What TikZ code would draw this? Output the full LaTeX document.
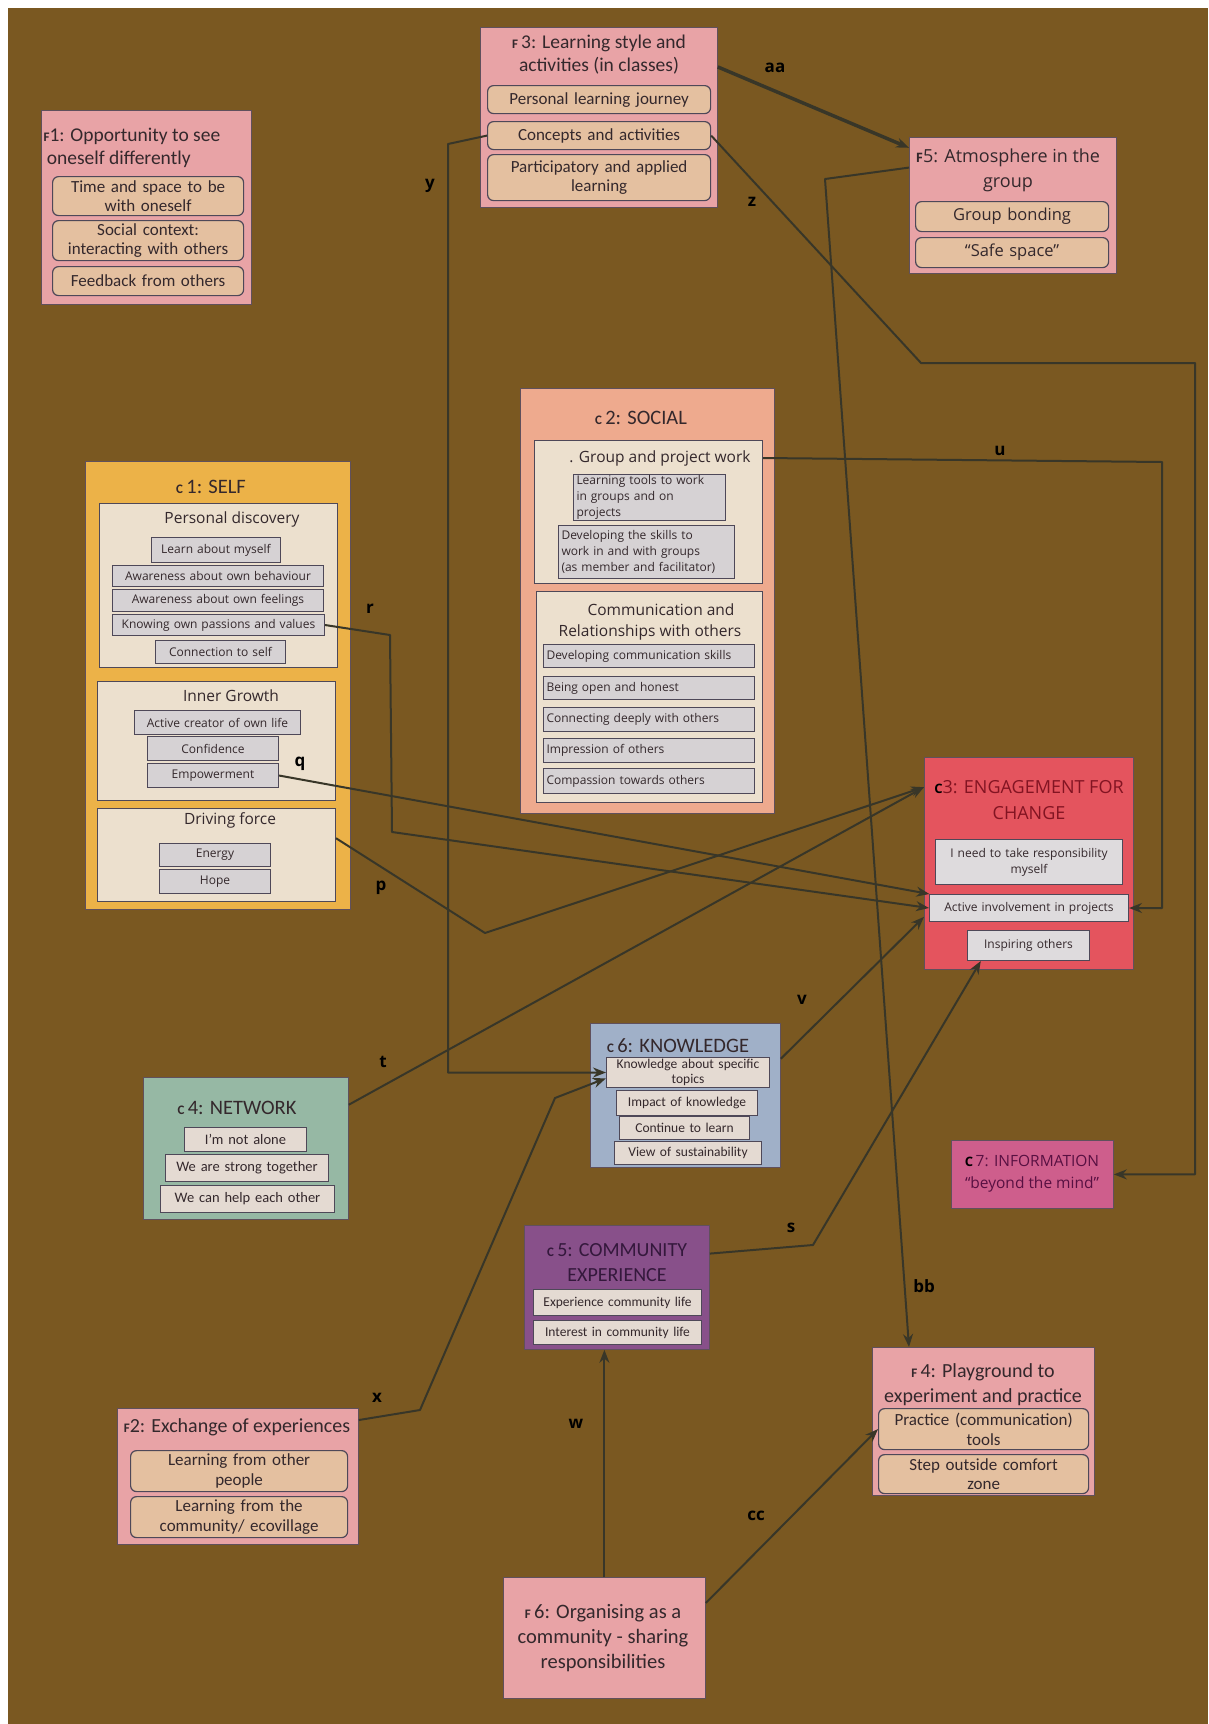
\documentclass[tikz,border=0pt]{standalone}
\usepackage{fontspec}
\setmainfont{Carlito}
\newfontfamily\segoe{Open Sans}
\usetikzlibrary{arrows.meta}

\definecolor{boardbrown}{RGB}{122,88,33}
\definecolor{cardedge}{RGB}{96,80,92}
\definecolor{itemedge}{RGB}{78,72,88}
\definecolor{inktext}{RGB}{52,40,44}
\definecolor{linkgrey}{RGB}{56,54,40}
\definecolor{fpink}{RGB}{232,163,166}
\definecolor{fbeige}{RGB}{228,192,160}
\definecolor{cselfyellow}{RGB}{236,178,72}
\definecolor{csocial}{RGB}{238,170,142}
\definecolor{cinnerfill}{RGB}{236,224,206}
\definecolor{citemgrey}{RGB}{214,210,212}
\definecolor{cengage}{RGB}{228,84,94}
\definecolor{cengagetext}{RGB}{130,20,34}
\definecolor{cnetwork}{RGB}{150,184,164}
\definecolor{cknow}{RGB}{160,176,200}
\definecolor{ccommunity}{RGB}{136,80,138}
\definecolor{ccommtext}{RGB}{52,24,60}
\definecolor{cinfo}{RGB}{206,94,140}
\definecolor{cinfotext}{RGB}{88,16,66}
\definecolor{cwarmitem}{RGB}{228,218,210}

\newcommand{\ftitlefont}{\fontsize{19.5}{23}\selectfont}
\newcommand{\fitemfont}{\fontsize{17}{19.5}\selectfont}
\newcommand{\ctitlefont}{\fontsize{20.5}{24}\selectfont}
\newcommand{\cheadfont}{\segoe\fontsize{15.5}{21}\selectfont}
\newcommand{\cboxfont}{\segoe\fontsize{12}{16}\selectfont}
\newcommand{\labfont}{\segoe\bfseries\fontsize{17}{17}\selectfont}
\newcommand{\pfx}[1]{{\fontsize{13}{13}\selectfont\bfseries #1}}
% box from top-left to bottom-right corner, text centred in it
\newcommand{\tile}[7][]{%
  \pgfmathsetmacro{\tilew}{#5-#3}\pgfmathsetmacro{\tileh}{#6-#4}\pgfmathsetmacro{\tiletw}{#5-#3-6}%
  \node[#1,anchor=north west,inner xsep=3pt,inner ysep=0pt,minimum width=\tilew pt,minimum height=\tileh pt,text width=\tiletw pt] (#2) at (#3,#4) {#7};}

\begin{document}
\begin{tikzpicture}[x=1pt,y=-1pt,
  fcard/.style={draw=cardedge,fill=fpink,line width=0.8pt},
  fitem/.style={draw=itemedge,fill=fbeige,rounded corners=6pt,line width=1.2pt,font=\fitemfont,text=inktext,align=center},
  ccard/.style={draw=cardedge,line width=0.8pt},
  cinner/.style={draw=itemedge,fill=cinnerfill,line width=1pt},
  citem/.style={draw=itemedge,fill=citemgrey,line width=1pt,font=\cboxfont,text=inktext,align=center},
  ftitle/.style={font=\ftitlefont,text=inktext,align=center},
  ctitle/.style={font=\ctitlefont,text=inktext,align=center},
  chead/.style={font=\cheadfont,text=inktext,align=center},
  link/.style={draw=linkgrey,line width=2pt,line join=round,-{Stealth[length=13pt,width=10pt]}},
  lab/.style={font=\labfont,text=black}]
\useasboundingbox (0,0) rectangle (1208,1724);
\fill[white] (0,0) rectangle (1208,1724);
\fill[boardbrown] (8,8) rectangle (1208,1724);

% F cards
\tile[fcard]{f1}{41}{110}{251}{304}{}
\node[ftitle,anchor=west,align=left] (f1t) at (40,148) {\pfx{F}1: Opportunity to see\\ \,oneself differently};
\tile[fitem]{f1a}{52}{176}{243}{215}{Time and space to be\\with oneself}
\tile[fitem]{f1b}{52}{220}{243}{260}{Social context:\\interacting with others}
\tile[fitem]{f1c}{52}{266}{243}{295}{Feedback from others}

\tile[fcard]{f3}{480}{27}{717}{207}{}
\node[ftitle] (f3t) at (599,55) {\pfx{F}\,3: Learning style and\\activities (in classes)};
\tile[fitem]{f3a}{487}{85}{710}{113}{Personal learning journey}
\tile[fitem]{f3b}{487}{121}{710}{149}{Concepts and activities}
\tile[fitem]{f3c}{487}{154}{710}{200}{Participatory and applied\\learning}

\tile[fcard]{f5}{909}{137}{1116}{273}{}
\node[ftitle,font=\segoe\fontsize{18}{25}\selectfont] (f5t) at (1008,170) {\pfx{F}5: Atmosphere in the\\group};
\tile[fitem,font=\segoe\fontsize{16.5}{18}\selectfont]{f5a}{915}{201}{1108}{231}{Group bonding}
\tile[fitem,font=\segoe\fontsize{16.5}{18}\selectfont]{f5b}{915}{237}{1108}{267}{“Safe space”}

\tile[fcard]{f2}{117}{1408}{358}{1544}{}
\node[ftitle,font=\fontsize{20}{24}\selectfont] (f2t) at (237,1427) {\pfx{F}2: Exchange of experiences};
\tile[fitem]{f2a}{130}{1450}{347}{1491}{Learning from other\\people}
\tile[fitem]{f2b}{130}{1496}{347}{1537}{Learning from the\\community/ ecovillage}

\tile[fcard]{f4}{872}{1347}{1094}{1495}{}
\node[ftitle,font=\fontsize{20}{25}\selectfont] (f4t) at (983,1385) {\pfx{F}\,4: Playground to\\experiment and practice};
\tile[fitem]{f4a}{878}{1408}{1088}{1449}{Practice (communication)\\tools}
\tile[fitem]{f4b}{878}{1454}{1088}{1493}{Step outside comfort\\zone}

\tile[fcard]{f6}{503}{1577}{705}{1698}{}
\node[ftitle,font=\fontsize{20.5}{25}\selectfont] (f6t) at (603,1638) {\pfx{F}\,6: Organising as a\\community - sharing\\responsibilities};

% C cards
\tile[ccard,fill=cselfyellow]{c1}{85}{461}{350}{909}{}
\node[ctitle] (c1t) at (211,487) {\pfx{C}\,1: SELF};
\tile[cinner]{c1p}{99}{503}{337}{667}{}
\node[chead] (c1pt) at (232,519) {Personal discovery};
\tile[citem]{c1p1}{151}{537}{280}{562}{Learn about myself}
\tile[citem]{c1p2}{112}{565}{323}{586}{Awareness about own behaviour}
\tile[citem]{c1p3}{112}{589}{323}{611}{Awareness about own feelings}
\tile[citem]{c1p4}{112}{614}{324}{635}{Knowing own passions and values}
\tile[citem]{c1p5}{155}{640}{285}{663}{Connection to self}
\tile[cinner]{c1g}{97}{681}{335}{800}{}
\node[chead] (c1gt) at (231,696) {Inner Growth};
\tile[citem]{c1g1}{134}{710}{300}{734}{Active creator of own life}
\tile[citem]{c1g2}{147}{736}{278}{760}{Confidence}
\tile[citem]{c1g3}{147}{763}{278}{787}{Empowerment}
\tile[cinner]{c1d}{97}{808}{335}{901}{}
\node[chead] (c1dt) at (230,820) {Driving force};
\tile[citem]{c1d1}{159}{843}{270}{866}{Energy}
\tile[citem]{c1d2}{159}{869}{270}{893}{Hope}

\tile[ccard,fill=csocial]{c2}{520}{388}{774}{813}{}
\node[ctitle] (c2t) at (641,418) {\pfx{C}\,2: SOCIAL};
\tile[cinner]{c2g}{534}{440}{762}{583}{}
\node[chead] (c2gt) at (660,458) {. Group and project work};
\tile[citem,align=left]{c2g1}{573}{474}{725}{520}{Learning tools to work\\in groups and on\\projects}
\tile[citem,align=left]{c2g2}{558}{525}{734}{578}{Developing the skills to\\work in and with groups\\(as member and facilitator)}
\tile[cinner]{c2c}{536}{591}{762}{802}{}
\node[chead] (c2ct) at (650,622) {\hspace*{22pt}Communication and\\Relationships with others};
\tile[citem,align=left]{c2c1}{543}{644}{754}{667}{Developing communication skills}
\tile[citem,align=left]{c2c2}{543}{676}{754}{699}{Being open and honest}
\tile[citem,align=left]{c2c3}{543}{707}{754}{731}{Connecting deeply with others}
\tile[citem,align=left]{c2c4}{543}{738}{754}{762}{Impression of others}
\tile[citem,align=left]{c2c5}{543}{768}{754}{793}{Compassion towards others}

\tile[ccard,fill=cengage]{c3}{924}{757}{1133}{969}{}
\node[chead,font=\segoe\fontsize{18}{26}\selectfont,text=cengagetext] (c3t) at (1029,800) {\pfx{\textcolor{black}{C}}3: ENGAGEMENT FOR\\CHANGE};
\tile[citem,fill=citemgrey!80!white]{c3a}{935}{839}{1122}{884}{I need to take responsibility\\myself}
\tile[citem,fill=citemgrey!80!white]{c3b}{929}{894}{1128}{921}{Active involvement in projects}
\tile[citem,fill=citemgrey!80!white]{c3c}{967}{930}{1089}{960}{Inspiring others}

\tile[ccard,fill=cknow]{c6}{590}{1023}{780}{1167}{}
\node[ctitle] (c6t) at (678,1046) {\pfx{C}\,6: KNOWLEDGE};
\tile[citem,fill=cwarmitem,font=\fontsize{13.5}{15}\selectfont]{c6a}{606}{1057}{769}{1087}{Knowledge about specific\\topics}
\tile[citem,fill=cwarmitem,font=\fontsize{13.5}{15}\selectfont]{c6b}{616}{1090}{757}{1115}{Impact of knowledge}
\tile[citem,fill=cwarmitem,font=\fontsize{13.5}{15}\selectfont]{c6c}{619}{1116}{749}{1139}{Continue to learn}
\tile[citem,fill=cwarmitem,font=\fontsize{13.5}{15}\selectfont]{c6d}{614}{1141}{761}{1164}{View of sustainability}

\tile[ccard,fill=cnetwork]{c4}{143}{1077}{348}{1219}{}
\node[ctitle] (c4t) at (237,1108) {\pfx{C}\,4: NETWORK};
\tile[citem,fill=cwarmitem,font=\fontsize{14.5}{16}\selectfont]{c4a}{184}{1127}{306}{1151}{I’m not alone}
\tile[citem,fill=cwarmitem,font=\fontsize{14.5}{16}\selectfont]{c4b}{165}{1154}{328}{1181}{We are strong together}
\tile[citem,fill=cwarmitem,font=\fontsize{14.5}{16}\selectfont]{c4c}{160}{1185}{334}{1212}{We can help each other}

\tile[ccard,fill=cinfo]{c7}{951}{1140}{1113}{1208}{}
\node[chead,font=\segoe\fontsize{15.5}{22}\selectfont,text=cinfotext] (c7t) at (1032,1174) {\pfx{\textcolor{black}{C}}\,7: INFORMATION\\“beyond the mind”};

\tile[ccard,fill=ccommunity]{c5}{524}{1225}{709}{1349}{}
\node[ctitle,font=\fontsize{20}{25}\selectfont,text=ccommtext] (c5t) at (617,1263) {\pfx{C}\,5: COMMUNITY\\EXPERIENCE};
\tile[citem,fill=cwarmitem,font=\fontsize{13.5}{15}\selectfont]{c5a}{533}{1289}{701}{1315}{Experience community life}
\tile[citem,fill=cwarmitem,font=\fontsize{13.5}{15}\selectfont]{c5b}{533}{1320}{701}{1344}{Interest in community life}

% connectors
\draw[link,line width=3.5pt] (f3.23) -- (f5.151);
\draw[link] (f3b.west) -- (448,144) |- (c6a.west);
\draw[link] (f3b.east) -- (921,363) -- (1195,363) |- (c7.east);
\draw[link] (f5.160) -- (825,179) -- (f4.135);
\draw[link] (c2gt -| c2g.east) -- (1162,462) |- (c3b.east);
\draw[link] (c1p4.east) -- (390,635) -- (392,832) -- (c3b.west);
\draw[link] (c1g3.east) -- (c3b.172);
\draw[link] (c1d.8) -- (485,933) -- (c3.144);
\draw[link] (c4.23) -- (c3.144);
\draw[link] (c6.21) -- (c3.207);
\draw[link] (c5.20) -- (813,1245) -- (c3c.198);
\draw[link] (f2.25) -- (420,1410) -- (555,1098) -- (c6a.184);
\draw[link] (f6.north) -- (f6.north |- c5.south);
\draw[link] (f6.19) -- (f4a.west);

% connector labels
\node[lab] (l-aa) at (775,68) {aa};
\node[lab] (l-y) at (430,186) {y};
\node[lab] (l-z) at (752,202) {z};
\node[lab] (l-u) at (1000,451) {u};
\node[lab] (l-r) at (370,609) {r};
\node[lab] (l-q) at (300,764) {q};
\node[lab] (l-p) at (381,888) {p};
\node[lab] (l-t) at (383,1062) {t};
\node[lab] (l-v) at (802,1000) {v};
\node[lab] (l-s) at (791,1228) {s};
\node[lab] (l-x) at (377,1398) {x};
\node[lab] (l-w) at (576,1424) {w};
\node[lab] (l-bb) at (924,1286) {bb};
\node[lab] (l-cc) at (756,1516) {cc};
\end{tikzpicture}
\end{document}
